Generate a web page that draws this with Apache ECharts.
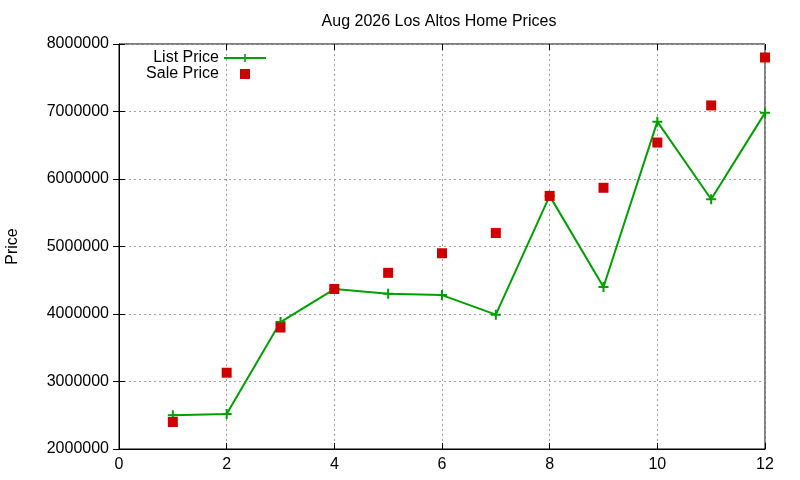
<!DOCTYPE html>
<html>
<head>
<meta charset="utf-8">
<script src="https://cdn.jsdelivr.net/npm/echarts@6/dist/echarts.min.js"></script>
<style>
  html, body { margin: 0; padding: 0; background: #fff; }
  #chart { width: 800px; height: 480px; }
</style>
</head>
<body>
<div id="chart"></div>
<script>
// Monthly home prices, Los Altos (month index 1..12)
const months = [1, 2, 3, 4, 5, 6, 7, 8, 9, 10, 11, 12];
const listPrice = [2500000, 2520000, 3880000, 4370000, 4300000, 4280000, 3990000, 5750000, 4400000, 6850000, 5700000, 6980000];
const salePrice = [2400000, 3130000, 3800000, 4370000, 4610000, 4900000, 5200000, 5750000, 5870000, 6540000, 7090000, 7800000];

const FONT = '"Liberation Sans", Arial, sans-serif';
const PLUS = 'path://M4,0H6V10H4Z M0,4H10V6H0Z';
// square centred in a 42x10 legend slot (tiny anchor dots keep the box wide)
const SQUARE_ICON = 'path://M0,5L0.01,5L0.01,5.01Z M16,0H26V10H16Z M41.99,5L42,5L42,5.01Z';

const chart = echarts.init(document.getElementById('chart'), null, { renderer: 'canvas' });

function pairs(xs, ys) {
  return xs.map(function (x, i) { return [x, ys[i]]; });
}

const gridLine = { show: true, lineStyle: { color: '#a0a0a0', type: [2, 3], width: 1 } };
const tickIn = { show: true, inside: true, length: 6, lineStyle: { color: '#000' } };

chart.setOption({
  animation: false,
  backgroundColor: '#fff',
  textStyle: { fontFamily: FONT },
  title: {
    text: 'Aug 2026 Los Altos Home Prices',
    left: 434, top: 9, textAlign: 'center',
    textStyle: { fontFamily: FONT, fontSize: 16, fontWeight: 'normal', color: '#000' },
  },
  grid: {
    left: 119, right: 35, top: 44, bottom: 31,
    outerBoundsMode: 'none', containLabel: false,
    show: true, borderColor: '#000', borderWidth: 1, backgroundColor: 'transparent',
  },
  legend: {
    orient: 'vertical', align: 'right',
    right: 528, top: 45,
    itemWidth: 42, itemHeight: 10, itemGap: 0,
    textStyle: { fontFamily: FONT, fontSize: 16, color: '#000', lineHeight: 14 },
    data: [
      { name: 'List Price' },
      { name: 'Sale Price', icon: SQUARE_ICON },
    ],
  },
  xAxis: [
    {
      type: 'value', min: 0, max: 12, interval: 2,
      axisLine: { show: true, lineStyle: { color: '#000' } },
      axisTick: tickIn,
      axisLabel: { color: '#000', fontSize: 16, fontFamily: FONT, margin: 8 },
      splitLine: gridLine,
    },
    {
      type: 'value', position: 'top', min: 0, max: 12, interval: 2,
      axisLine: { show: false }, axisTick: tickIn, axisLabel: { show: false }, splitLine: { show: false },
    },
  ],
  yAxis: [
    {
      type: 'value', min: 2000000, max: 8000000, interval: 1000000,
      name: 'Price', nameLocation: 'middle', nameGap: 98, nameRotate: 90,
      nameTextStyle: { color: '#000', fontSize: 16, fontFamily: FONT },
      axisLine: { show: true, lineStyle: { color: '#000' } },
      axisTick: tickIn,
      axisLabel: { color: '#000', fontSize: 16, fontFamily: FONT, margin: 10, formatter: function (v) { return String(v); } },
      splitLine: gridLine,
    },
    {
      type: 'value', position: 'right', min: 2000000, max: 8000000, interval: 1000000,
      axisLine: { show: false }, axisTick: tickIn, axisLabel: { show: false }, splitLine: { show: false },
    },
  ],
  series: [
    {
      name: 'List Price', type: 'line',
      data: pairs(months, listPrice),
      symbol: PLUS, symbolSize: 10, showAllSymbol: true,
      lineStyle: { color: '#00a000', width: 2 },
      itemStyle: { color: '#00a000' },
      z: 3,
    },
    {
      name: 'Sale Price', type: 'scatter',
      data: pairs(months, salePrice),
      symbol: 'rect', symbolSize: 10,
      itemStyle: { color: '#cc0000', opacity: 1 },
      z: 4,
    },
  ],
});
</script>
</body>
</html>
